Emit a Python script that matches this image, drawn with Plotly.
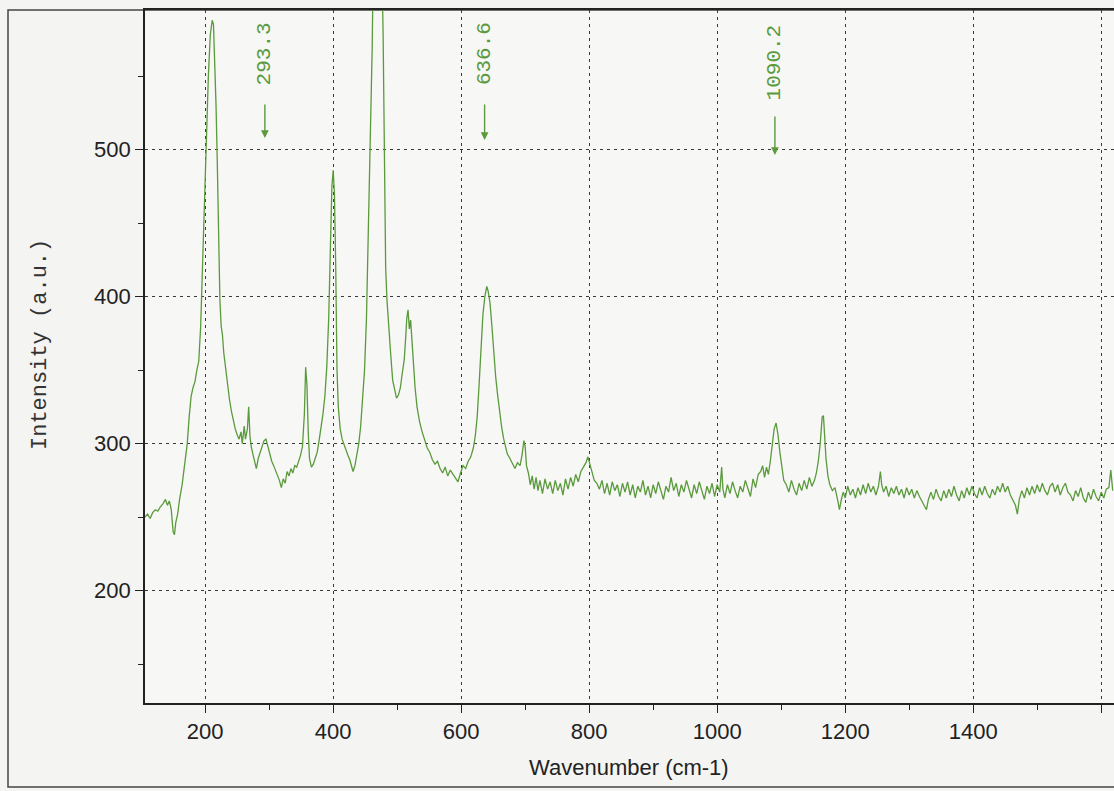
import plotly.graph_objects as go

# Raman spectrum (wavenumber cm-1, intensity a.u.)
wavenumber = [
    106, 110, 114, 118, 122, 126, 130, 134, 138, 141, 144, 147, 150, 152, 154, 157, 160, 164, 168, 172,
    175, 178, 181, 184, 187, 190, 193, 196, 199, 202, 205, 208, 211, 213, 215, 217, 219, 221, 223, 225,
    227, 229, 232, 235, 238, 241, 244, 247, 250, 253, 256, 258, 261, 263, 266, 268, 270, 272, 275, 278,
    280, 283, 286, 289, 292, 295, 298, 301, 304, 307, 310, 313, 316, 319, 322, 325, 328, 331, 334, 337,
    340, 343, 346, 349, 352, 355, 357, 359, 361, 363, 366, 369, 372, 375, 378, 381, 384, 387, 390, 393,
    396, 398, 400, 402, 404, 406, 408, 411, 414, 417, 420, 423, 426, 429, 431, 434, 437, 440, 443, 446,
    449, 452, 455, 458, 461, 463, 467, 471, 475, 478, 480, 482, 484, 487, 490, 493, 496, 499, 502, 505,
    508, 511, 513, 515, 517, 519, 521, 523, 525, 528, 531, 535, 539, 543, 547, 551, 555, 559, 563, 567,
    571, 575, 579, 583, 587, 591, 595, 599, 603, 607, 611, 615, 619, 622, 625, 628, 631, 634, 637, 640,
    642, 645, 648, 651, 654, 657, 660, 663, 666, 669, 672, 676, 680, 684, 688, 692, 695, 698, 700, 702,
    705, 708, 711, 714, 717, 720, 723, 727, 731, 735, 739, 743, 747, 751, 755, 759, 763, 767, 771, 775,
    779, 783, 787, 791, 795, 798, 801, 804, 808, 812, 816, 820, 824, 828, 832, 836, 840, 844, 848, 852,
    856, 860, 864, 868, 872, 876, 880, 884, 888, 892, 896, 900, 904, 908, 912, 916, 920, 924, 928, 932,
    936, 940, 944, 948, 952, 956, 960, 964, 968, 972, 976, 980, 984, 988, 992, 996, 1000, 1004, 1007, 1009,
    1012, 1016, 1020, 1024, 1028, 1032, 1036, 1040, 1044, 1048, 1052, 1056, 1060, 1064, 1068, 1071, 1074, 1077, 1080, 1083,
    1086, 1089, 1092, 1095, 1098, 1101, 1104, 1108, 1112, 1116, 1120, 1124, 1128, 1132, 1136, 1140, 1144, 1148, 1152, 1155,
    1158, 1161, 1164, 1166, 1168, 1170, 1173, 1176, 1180, 1184, 1188, 1191, 1194, 1197, 1200, 1204, 1208, 1212, 1216, 1220,
    1224, 1228, 1232, 1236, 1240, 1244, 1248, 1252, 1255, 1257, 1260, 1264, 1268, 1272, 1276, 1280, 1284, 1288, 1292, 1296,
    1300, 1304, 1308, 1312, 1316, 1320, 1324, 1327, 1330, 1334, 1338, 1342, 1346, 1350, 1354, 1358, 1362, 1366, 1370, 1374,
    1378, 1382, 1386, 1390, 1394, 1398, 1402, 1406, 1410, 1414, 1418, 1422, 1426, 1430, 1434, 1438, 1442, 1446, 1450, 1454,
    1458, 1462, 1466, 1469, 1472, 1476, 1480, 1484, 1488, 1492, 1496, 1500, 1504, 1508, 1512, 1516, 1520, 1524, 1528, 1532,
    1536, 1540, 1544, 1548, 1552, 1556, 1560, 1564, 1568, 1572, 1576, 1580, 1584, 1588, 1592, 1596, 1600, 1604, 1608, 1612,
    1615, 1618,
]
intensity = [
    250, 252, 249, 253, 255, 254, 257, 259, 262, 258, 261, 255, 240, 238, 246, 252, 262, 272, 286, 300,
    318, 332, 338, 342, 350, 356, 380, 425, 470, 512, 550, 578, 588, 585, 562, 530, 490, 440, 398, 380,
    374, 362, 350, 340, 330, 322, 315, 310, 306, 303, 308, 300, 312, 303, 310, 325, 305, 298, 292, 286,
    283, 290, 294, 298, 302, 303, 298, 292, 288, 285, 282, 279, 275, 270, 276, 273, 281, 278, 283, 280,
    285, 284, 288, 292, 298, 320, 352, 340, 308, 290, 284, 286, 290, 294, 302, 310, 320, 332, 352, 385,
    440, 475, 486, 470, 420, 350, 325, 310, 303, 299, 296, 292, 289, 284, 281, 285, 292, 300, 312, 328,
    350, 385, 440, 500, 570, 640, 700, 700, 650, 580, 480, 420, 398, 375, 360, 343, 336, 331, 333, 338,
    348, 357, 370, 385, 391, 378, 384, 370, 352, 338, 325, 315, 308, 302, 297, 294, 289, 286, 288, 283,
    280, 284, 278, 282, 279, 276, 274, 280, 285, 283, 288, 291, 297, 305, 318, 340, 365, 388, 400, 407,
    404, 396, 380, 360, 345, 333, 320, 312, 304, 298, 293, 290, 286, 283, 287, 285, 292, 302, 298, 285,
    280, 272, 278, 269, 277, 268, 275, 266, 276, 269, 274, 266, 275, 268, 273, 265, 276, 269, 277, 271,
    279, 274, 281, 284, 287, 291, 286, 281, 275, 273, 269, 275, 266, 273, 265, 274, 268, 272, 264, 273,
    267, 274, 265, 272, 263, 271, 267, 275, 265, 271, 263, 272, 266, 274, 268, 262, 271, 267, 277, 268,
    273, 264, 272, 267, 275, 268, 263, 272, 266, 274, 267, 262, 271, 266, 273, 264, 272, 267, 284, 269,
    263, 272, 266, 274, 268, 263, 271, 267, 275, 269, 264, 276, 270, 279, 281, 285, 277, 284, 279, 288,
    300, 310, 314, 306, 294, 284, 275, 272, 267, 275, 269, 265, 273, 268, 275, 269, 277, 271, 275, 280,
    288, 300, 318, 319, 305, 290, 278, 272, 268, 270, 262, 255, 262, 267, 263, 271, 265, 269, 263, 270,
    265, 272, 266, 273, 267, 271, 265, 271, 281, 272, 267, 271, 264, 270, 266, 271, 265, 269, 263, 270,
    265, 269, 263, 268, 264, 261, 257, 255, 262, 267, 262, 269, 264, 261, 268, 263, 269, 264, 271, 265,
    261, 268, 263, 270, 265, 271, 266, 263, 270, 265, 271, 266, 263, 269, 265, 271, 267, 273, 267, 271,
    265, 262, 258, 252, 262, 268, 263, 270, 265, 271, 266, 272, 267, 273, 268, 265, 271, 273, 267, 272,
    265, 270, 273, 267, 265, 261, 268, 264, 270, 263, 260, 267, 262, 269, 264, 261, 267, 263, 269, 270,
    282, 268,
]

x_ticks = [200, 400, 600, 800, 1000, 1200, 1400, 1600]
x_tick_labels = ["200", "400", "600", "800", "1000", "1200", "1400", ""]
y_ticks = [200, 300, 400, 500]
y_tick_labels = ["200", "300", "400", "500"]

peak_positions = [293.3, 636.6, 1090.2]
peak_labels = ["293.3", "636.6", "1090.2"]

x_title = "Wavenumber (cm-1)"
y_title = "Intensity (a.u.)"

GREEN = "#5a9a3c"
W, H = 1114, 791
ML, MR, MT, MB = 145, 0, 10, 88
PW, PH = W - ML - MR, H - MT - MB


def px_to_paper_x(px):
    return (px - ML) / PW


def px_to_paper_y(py):
    return (H - MB - py) / PH


fig = go.Figure()
fig.add_trace(go.Scatter(
    x=wavenumber, y=intensity, mode="lines",
    line=dict(color=GREEN, width=1.3),
    showlegend=False, hoverinfo="x+y",
))

grid_style = dict(showgrid=True, gridcolor="#3a3a3a", gridwidth=1, griddash="3px,4px")

fig.update_xaxes(
    range=[106, 1620], tickmode="array", tickvals=x_ticks, ticktext=x_tick_labels,
    ticks="outside", ticklen=8, tickwidth=1.2, tickcolor="#222",
    showline=True, linecolor="#222", linewidth=1.6, mirror=True,
    tickfont=dict(family="Liberation Sans, Arial", size=22, color="#222"),
    minor=dict(dtick=100, tick0=100, ticks="outside", ticklen=5, tickcolor="#222", showgrid=False),
    zeroline=False, **grid_style,
)
fig.update_yaxes(
    range=[123.5, 595], tickmode="array", tickvals=y_ticks, ticktext=y_tick_labels,
    ticks="outside", ticklen=8, tickwidth=1.2, tickcolor="#222",
    showline=True, linecolor="#222", linewidth=1.6, mirror=False,
    tickfont=dict(family="Liberation Sans, Arial", size=22, color="#222"),
    minor=dict(dtick=50, tick0=50, ticks="outside", ticklen=5, tickcolor="#222", showgrid=False),
    zeroline=False, **grid_style,
)

annotations = []
label_centers = [53.5, 53.5, 62.5]
arrow_tips = [138, 140, 155]
arrow_tails = [103, 103, 115]
for pos, lab, cy, tip, tail in zip(peak_positions, peak_labels, label_centers, arrow_tips, arrow_tails):
    annotations.append(dict(
        x=pos, xref="x", y=px_to_paper_y(cy), yref="paper",
        text=lab, textangle=-90, showarrow=False,
        xanchor="center", yanchor="middle",
        font=dict(family="Liberation Mono, Courier New, monospace", size=21, color=GREEN),
    ))
    annotations.append(dict(
        x=pos, xref="x", y=px_to_paper_y(tip), yref="paper",
        text="", showarrow=True, ax=0, ay=-(tip - tail),
        arrowhead=2, arrowsize=1.1, arrowwidth=1.4, arrowcolor=GREEN,
    ))

annotations.append(dict(
    x=px_to_paper_x(629), xref="paper", y=px_to_paper_y(767), yref="paper",
    text=x_title, showarrow=False, xanchor="center", yanchor="middle",
    font=dict(family="Liberation Sans, Arial", size=22, color="#222"),
))
annotations.append(dict(
    x=px_to_paper_x(40), xref="paper", y=px_to_paper_y(345), yref="paper",
    text=y_title, textangle=-90, showarrow=False, xanchor="center", yanchor="middle",
    font=dict(family="Liberation Mono, Courier New, monospace", size=22, color="#333"),
))

shapes = [dict(
    type="rect", xref="paper", yref="paper",
    x0=px_to_paper_x(8), x1=px_to_paper_x(1400), y0=px_to_paper_y(787), y1=px_to_paper_y(10),
    line=dict(color="#444", width=1.5), fillcolor="rgba(0,0,0,0)", layer="below",
)]

fig.update_layout(
    width=W, height=H,
    margin=dict(l=ML, r=MR, t=MT, b=MB, pad=0),
    paper_bgcolor="#f4f4f2", plot_bgcolor="#f7f7f5",
    annotations=annotations, shapes=shapes,
    showlegend=False,
)

fig.write_html("out.html")
